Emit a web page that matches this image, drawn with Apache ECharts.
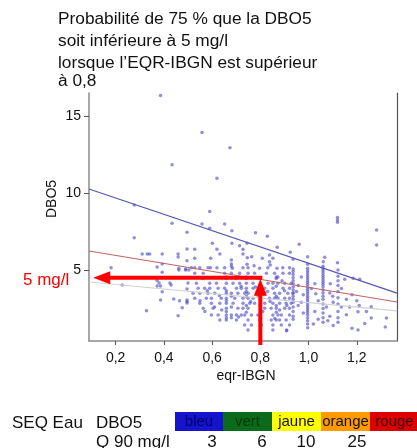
<!DOCTYPE html>
<html><head><meta charset="utf-8">
<script src="https://cdn.jsdelivr.net/npm/echarts@6/dist/echarts.min.js"></script>
<style>html,body{margin:0;padding:0;background:#fff}#c{width:417px;height:448px}</style>
</head><body><div id="c"></div>
<script>
// ---------- data ----------
const titleLines = ['Probabilité de 75 % que la DBO5', 'soit inférieure à 5 mg/l', 'lorsque l\u2019EQR-IBGN est supérieur', 'à 0,8'];
const xTicks = [0.2, 0.4, 0.6, 0.8, 1.0, 1.2];
const yTicks = [5, 10, 15];
const xRange = [0.0895, 1.3667];
const yRange = [0.39, 16.49];

// isolated points [eqr-IBGN, DBO5]
const scatterPairs = [
  [0.386,16.32],[0.558,13.92],[0.674,12.94],[0.434,11.84],[0.620,10.95],
  [0.277,9.22],[0.590,8.79],[1.120,8.40],[1.120,8.25],[1.120,8.10],[0.434,8.03],[0.558,7.99],[0.652,7.99],
  [0.590,7.71],[0.682,7.55],[1.282,7.60],[0.496,7.45],[0.780,7.42],[0.829,7.19],[0.277,7.10],
  [0.601,6.73],[0.682,6.73],[0.745,6.73],[0.961,6.67],[1.282,6.62],[0.714,6.58],[0.870,6.47],[0.496,6.36],
  [0.528,6.34],[0.620,6.34],[0.728,6.34],[0.924,6.15],
  [0.310,6.04],[0.331,6.04],[0.341,6.04],[0.393,6.04],[0.459,6.04],[0.632,6.04],[0.728,6.04],[0.838,5.97],
  [0.459,5.84],[0.996,5.86],[1.067,5.82],[0.764,5.86],[0.746,5.80],[0.528,5.76],[0.594,5.76],[0.808,5.76],
  [0.852,5.76],[0.936,5.69],[0.680,5.65],[0.496,5.60],[0.838,5.54],[1.061,5.54],[1.120,5.47],
  [0.393,5.39],[0.680,5.39],[0.996,5.37],[0.745,5.37],[0.841,5.32],[0.774,5.28],[0.680,5.24],[0.372,5.19],
  [0.181,5.15],[0.528,5.15],[0.593,5.15],[0.620,5.15],[0.462,5.11],[0.684,5.11],[0.797,5.11],[0.869,5.11],
  [0.996,5.11],[0.490,5.06],[0.936,5.06],
  [0.514,5.15],[0.549,5.15],[0.583,5.15],[0.652,5.15],[0.728,5.15],[0.749,5.15],[0.831,5.15],[0.893,5.15],[0.921,5.15],
  [0.393,4.85],[0.462,5.0],[0.490,5.0],[0.503,5.0],[0.372,4.31],[0.227,4.03],[0.372,3.96],[0.386,3.96],
  [0.430,4.03],[0.393,3.59],[0.496,3.77],[0.386,3.05],[0.441,3.12],[0.465,3.01],[0.496,3.05],[0.496,2.95],
  [0.496,2.85],[0.476,2.55],[0.328,2.36],[0.459,2.03],[0.425,4.15],[0.380,4.15],[0.500,4.15],
  [0.957,4.0],[0.957,2.7],[0.978,3.4],[0.978,2.2],[1.012,3.8],[1.026,4.1],[1.026,2.3],[1.040,3.0],[1.040,1.8],
  [1.074,2.6],[1.088,3.5],[1.088,2.0],[1.102,2.9],[1.102,1.4],[1.136,3.8],[1.136,2.6],[1.157,3.1],[1.157,2.1],
  [1.185,4.46],[1.212,4.4],[1.21,2.7],[1.233,1.53],[1.205,1.1],[1.260,1.88],[1.323,1.88],[1.318,1.3],
  [1.18,3.4],[1.24,2.3],[1.2,3.0],[1.18,1.21],[1.26,2.62],[1.205,2.29],[0.909,1.06],
  [0.56,4.45],[0.61,4.5],[0.58,3.65],[0.63,3.35],[0.55,3.0],[0.61,2.6],[0.64,2.4],[0.57,2.3],
  [0.70,4.45],[0.72,3.95],[0.78,3.9],[0.79,3.35],[0.76,2.95],[0.83,3.6],[0.84,2.95],[0.81,2.3],
  [0.89,4.3],[0.90,3.65],[0.91,2.7],[0.88,2.4],[0.95,3.6],[0.97,4.55],[0.97,2.9],[1.03,3.45],
  [1.09,4.1],[1.10,3.3],[1.15,4.4],[1.17,2.6],[1.08,1.7],[1.02,1.5],[0.86,1.85],[0.71,1.95]
];

// horizontal rows of points (shared DBO5 value)
const rowY = [4.79, 4.55, 4.14, 3.81, 3.49, 3.16, 2.84, 2.51, 2.08, 1.75, 1.43, 1.10];
const rowX = [
  [0.528,0.563,0.652,0.680,0.714,0.749,0.776,0.825,0.859,0.894,0.921],
  [0.659,0.742,0.866,0.873],
  [0.535,0.590,0.618,0.659,0.687,0.714,0.742,0.770,0.832,0.852,0.873,0.901,0.928],
  [0.542,0.569,0.590,0.625,0.652,0.701,0.721,0.742,0.770,0.818,0.852,0.894,0.921],
  [0.521,0.549,0.583,0.611,0.659,0.680,0.707,0.735,0.749,0.818,0.859,0.880,0.914,0.935],
  [0.528,0.576,0.597,0.638,0.659,0.694,0.728,0.749,0.770,0.838,0.859,0.873,0.901,0.921],
  [0.549,0.597,0.632,0.659,0.687,0.728,0.756,0.776,0.818,0.852,0.880,0.907,0.928],
  [0.563,0.604,0.659,0.707,0.728,0.749,0.818,0.845,0.866,0.901,0.921],
  [0.597,0.625,0.659,0.680,0.701,0.721,0.735,0.763,0.790,0.852,0.873,0.887,0.921],
  [0.632,0.659,0.701,0.749,0.797,0.845,0.866,0.880,0.907],
  [0.735,0.763,0.804,0.852,0.887,0.921],
  [0.749,0.852,0.909]
];

// vertical columns of points (shared eqr-IBGN value)
const columnX = [0.996, 1.06, 0.936, 1.122, 0.659, 0.742, 0.866, 0.680];
const columnY = [
  [4.95,4.8,4.65,4.5,4.35,4.2,4.05,3.9,3.75,3.6,3.45,3.3,3.15,3.0,2.85,2.7,2.55,2.4,2.25,2.1,1.9,1.7,1.5,1.25],
  [5.25,5.1,4.95,4.8,4.65,4.5,4.35,4.2,4.05,3.9,3.7,3.5,3.3,3.1,2.8,2.5,2.2,1.9,1.6],
  [4.9,4.7,4.5,4.3,4.1,3.9,3.7,3.5,3.3,3.1,2.9,2.6,2.3,2.0,1.8],
  [5.0,4.6,4.3,4.0,3.6,3.2,2.8,2.3,1.9,1.6],
  [4.45,3.65,3.0,2.3,1.9],
  [4.45,3.6,3.3,2.7,2.25],
  [4.45,3.95,3.3,2.7,2.25],
  [4.5,3.3,2.6,1.9]
];

// regression lines (end points)
const lineBlue = [[0.0895,10.26],[1.3667,3.50]];
const lineRed  = [[0.0895,6.23],[1.3667,2.92]];
const lineGray = [[0.0895,4.22],[1.3667,2.34]];

// red arrows: junction (x=0.8, y≈4.5), horizontal tip, vertical tail
const arrowJunction = [0.8, 4.5];
const arrowTipX = 0.107;
const arrowTailY = 0.13;

// legend (SEQ Eau classes)
const classNames = ['bleu', 'vert', 'jaune', 'orange', 'rouge'];
const classColors = ['#1414cc', '#0b6a1c', '#ffff00', '#ff9a00', '#dd0000'];
const classTextColors = ['#00006a', '#003a00', '#111111', '#111111', '#3a0000'];
const classThresholds = ['3', '6', '10', '25'];

// ---------- build ----------
const points = scatterPairs.slice();
rowY.forEach((y, i) => rowX[i].forEach(x => points.push([x, y])));
columnX.forEach((x, i) => columnY[i].forEach(y => points.push([x, y])));

const FONT = "'Liberation Sans', Arial, Helvetica, sans-serif";
const chart = echarts.init(document.getElementById('c'), null, {renderer: 'canvas'});

const graphics = [];
const titleY = [19.7, 41.7, 63.3, 81];
titleLines.forEach((t, i) => graphics.push({
  type: 'text', x: 58, y: titleY[i],
  style: {text: t, fill: '#111', font: '17.3px ' + FONT, align: 'left', verticalAlign: 'middle'}
}));
graphics.push({type: 'text', x: 52, y: 199, rotation: Math.PI / 2,
  style: {text: 'DBO5', fill: '#111', font: '14px ' + FONT, align: 'center', verticalAlign: 'middle'}});
graphics.push({type: 'text', x: 246, y: 376,
  style: {text: 'eqr-IBGN', fill: '#111', font: '14px ' + FONT, align: 'center', verticalAlign: 'middle'}});
graphics.push({type: 'text', x: 23, y: 280,
  style: {text: '5 mg/l', fill: '#ff0000', font: '17px ' + FONT, align: 'left', verticalAlign: 'middle'}});
graphics.push({type: 'text', x: 12, y: 423,
  style: {text: 'SEQ Eau', fill: '#111', font: '17px ' + FONT, align: 'left', verticalAlign: 'middle'}});
graphics.push({type: 'text', x: 96, y: 423,
  style: {text: 'DBO5', fill: '#111', font: '17px ' + FONT, align: 'left', verticalAlign: 'middle'}});
graphics.push({type: 'text', x: 96, y: 442,
  style: {text: 'Q 90 mg/l', fill: '#111', font: '17px ' + FONT, align: 'left', verticalAlign: 'middle'}});
const segX = [175, 223, 272, 321, 370, 419];
classNames.forEach((n, i) => {
  graphics.push({type: 'rect', shape: {x: segX[i], y: 412, width: segX[i + 1] - segX[i], height: 19},
    style: {fill: classColors[i]}});
  graphics.push({type: 'text', x: (segX[i] + segX[i + 1]) / 2, y: 422,
    style: {text: n, fill: classTextColors[i], font: '15px ' + FONT, align: 'center', verticalAlign: 'middle'}});
});
const thresholdX = [212, 262, 306, 357];
classThresholds.forEach((t, i) => graphics.push({type: 'text', x: thresholdX[i], y: 442,
  style: {text: t, fill: '#111', font: '17px ' + FONT, align: 'center', verticalAlign: 'middle'}}));

const option = {
  backgroundColor: '#fff',
  animation: false,
  grid: {left: 89, right: 20, top: 93, bottom: 107},
  xAxis: {
    type: 'value', min: xRange[0], max: xRange[1],
    axisLine: {show: true, lineStyle: {color: '#8a8a8a', width: 1.5}},
    axisTick: {show: true, length: 4, customValues: xTicks, lineStyle: {color: '#555'}},
    axisLabel: {customValues: xTicks, margin: 10, color: '#111', fontSize: 14, fontFamily: FONT,
      formatter: v => v.toFixed(1).replace('.', ',')},
    splitLine: {show: false}
  },
  yAxis: [{
    type: 'value', min: yRange[0], max: yRange[1],
    axisLine: {show: true, lineStyle: {color: '#8a8a8a', width: 1.5}},
    axisTick: {show: true, length: 5, customValues: yTicks, lineStyle: {color: '#555'}},
    axisLabel: {customValues: yTicks, margin: 8, color: '#111', fontSize: 14, fontFamily: FONT},
    splitLine: {show: false}
  }, {
    type: 'value', position: 'right', min: yRange[0], max: yRange[1],
    axisLine: {show: true, lineStyle: {color: '#555', width: 1.2}},
    axisTick: {show: false}, axisLabel: {show: false}, splitLine: {show: false}
  }],
  series: [
    {type: 'scatter', data: points, symbol: 'circle', symbolSize: 3.5,
      itemStyle: {color: 'rgba(80,80,200,0.8)'}, silent: true, z: 2},
    {type: 'line', data: lineBlue, symbol: 'none', lineStyle: {color: '#5656b0', width: 1.2}, z: 3, silent: true},
    {type: 'line', data: lineRed, symbol: 'none', lineStyle: {color: '#c06464', width: 1.1}, z: 3, silent: true},
    {type: 'line', data: lineGray, symbol: 'none', lineStyle: {color: '#d2d2d2', width: 1.2}, z: 3, silent: true},
    {type: 'custom', clip: false, silent: true, z: 10, data: [arrowJunction],
      renderItem: (params, api) => {
        const j = api.coord([api.value(0), api.value(1)]);
        const tip = api.coord([arrowTipX, api.value(1)]);
        const tail = api.coord([api.value(0), arrowTailY]);
        const red = '#ff0000';
        const hw = 2, hl = 17, hh = 6.5;
        return {type: 'group', children: [
          {type: 'polygon', shape: {points: [[tip[0] + hl - 1, j[1] - hw], [j[0] + hw, j[1] - hw], [j[0] + hw, j[1] + hw], [tip[0] + hl - 1, j[1] + hw]]}, style: {fill: red}},
          {type: 'polygon', shape: {points: [[tip[0], j[1]], [tip[0] + hl, j[1] - hh], [tip[0] + hl, j[1] + hh]]}, style: {fill: red}},
          {type: 'polygon', shape: {points: [[j[0] - hw, tail[1]], [j[0] + hw, tail[1]], [j[0] + hw, j[1] + hl], [j[0] - hw, j[1] + hl]]}, style: {fill: red}},
          {type: 'polygon', shape: {points: [[j[0], j[1] + 1], [j[0] - hh, j[1] + hl + 1], [j[0] + hh, j[1] + hl + 1]]}, style: {fill: red}}
        ]};
      }}
  ],
  graphic: graphics
};
chart.setOption(option);
</script></body></html>
